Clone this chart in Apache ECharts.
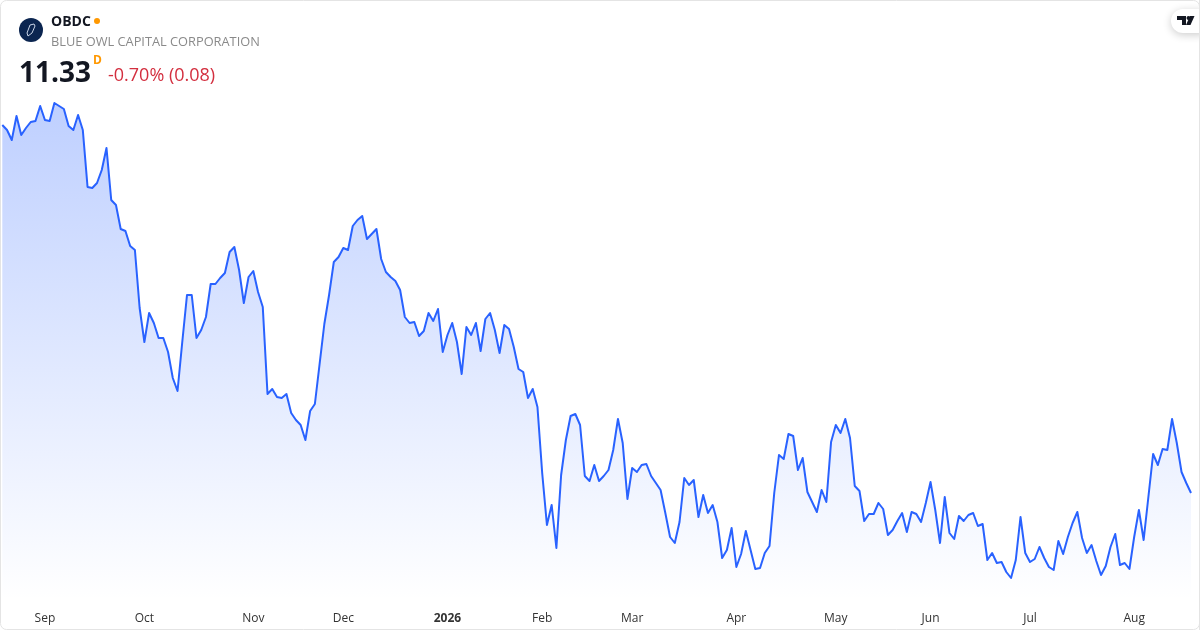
<!DOCTYPE html>
<html><head><meta charset="utf-8">
<style>html,body{margin:0;padding:0;background:#fff}#c{width:1200px;height:630px}</style>
<script src="https://cdn.jsdelivr.net/npm/echarts@6/dist/echarts.min.js"></script>
</head><body><div id="c"></div>
<script>
const prices = [15.01,14.96,14.86,15.10,14.91,14.98,15.04,15.05,15.20,15.06,15.05,15.23,15.20,15.17,15.00,14.96,15.11,14.96,14.39,14.38,14.43,14.56,14.78,14.26,14.21,13.97,13.95,13.80,13.76,
13.18,12.84,13.13,13.03,12.88,12.88,12.74,12.48,12.35,12.84,13.31,13.31,12.88,12.96,13.09,13.42,13.42,13.48,13.53,13.74,13.79,13.56,13.23,13.49,13.55,13.34,13.19,12.32,12.37,12.29,12.28,12.32,12.13,12.06,12.01,11.86,12.15,12.22,12.62,13.02,13.31,13.64,13.69,13.78,13.76,14.00,14.06,14.10,13.87,13.92,13.97,13.67,13.54,13.49,13.45,13.36,13.09,13.03,13.04,12.90,12.95,13.13,13.05,13.17,12.74,12.91,13.03,12.84,12.52,12.99,12.91,13.03,12.75,13.07,13.13,12.96,12.73,13.01,12.97,12.79,12.57,12.54,12.28,12.37,12.19,
11.53,11.01,11.21,10.78,11.51,11.86,12.10,12.12,12.01,11.50,11.45,11.61,11.45,11.50,11.56,11.76,12.07,11.83,11.27,11.58,11.54,11.61,11.62,11.50,11.43,11.36,11.13,10.89,10.83,11.04,11.48,11.41,11.46,11.09,11.31,11.13,11.21,11.04,10.68,10.76,10.98,10.59,10.72,10.95,10.76,10.57,10.58,10.73,10.80,11.33,11.71,11.67,11.92,11.90,11.56,11.68,11.34,11.24,11.14,11.36,11.24,11.84,12.01,11.93,12.07,11.88,11.40,11.35,
11.05,11.12,11.12,11.23,11.17,10.91,10.96,11.05,11.13,10.94,11.14,11.12,11.04,11.23,11.44,11.16,10.83,11.29,10.93,10.87,11.10,11.05,11.11,11.13,11.00,11.02,10.66,10.73,10.63,10.64,10.54,10.48,10.66,11.09,10.73,10.64,10.67,10.79,10.68,10.59,10.56,10.85,10.72,10.89,11.03,11.14,10.88,10.73,10.81,10.65,10.51,10.60,10.79,10.92,10.61,10.63,10.57,10.89,11.16,10.86,11.29,11.72,11.61,11.77,11.76,12.07,11.83,11.54,11.43,11.33];
const tickLabels = ['Sep','Oct','Nov','Dec','2026','Feb','Mar','Apr','May','Jun','Jul','Aug'];
const tickIndex = [9,30,53,72,94,114,133,155,176,196,217,239];
const categories = prices.map((_, i) => { const k = tickIndex.indexOf(i); return k >= 0 ? tickLabels[k] : ''; });

const chart = echarts.init(document.getElementById('c'), null, {renderer:'canvas'});
const FONT = '"Open Sans","Noto Sans",sans-serif';
chart.setOption({
  animation:false,
  backgroundColor:'#fff',
  grid:{left:2.3,width:1188.7,top:0,height:600,containLabel:false},
  xAxis:{type:'category',data:categories,boundaryGap:false,
    axisLine:{show:false},axisTick:{show:false},splitLine:{show:false},
    axisLabel:{interval:(i,v)=>v!=='' ,margin:13,color:'#333',fontSize:12,fontFamily:FONT,hideOverlap:false,
      formatter:v=>v==='2026'?'{b|2026}':v,
      rich:{b:{fontWeight:'bold',color:'#333',fontSize:12,fontFamily:FONT}}}},
  yAxis:{type:'value',min:10.26,max:16.26,show:false,splitLine:{show:false}},
  series:[{type:'line',data:prices,symbol:'none',smooth:false,
    lineStyle:{color:'#2962ff',width:2,join:'round'},
    areaStyle:{opacity:1,color:new echarts.graphic.LinearGradient(0,0,0,1,[
      {offset:0,color:'rgba(41,98,255,0.3)'},{offset:1,color:'rgba(41,98,255,0)'}])}}],
  graphic:[
    {type:'rect',silent:true,z:50,shape:{x:0.5,y:0.5,width:1199,height:629,r:6},style:{fill:'none',stroke:'#e4e4e4',lineWidth:1}},
    {type:'circle',z:60,shape:{cx:31,cy:30,r:12},style:{fill:'#0b2550'}},
    {type:'polygon',z:61,shape:{points:[[28,36],[27,33],[30,25],[34,24],[35,26],[32,33]]},style:{fill:'none',stroke:'#c9d4e6',lineWidth:1}},
    {type:'text',z:60,x:51,y:15,style:{text:'OBDC',fill:'#131722',font:'bold 14px '+FONT}},
    {type:'circle',z:60,shape:{cx:97,cy:21,r:3},style:{fill:'#ff9800'}},
    {type:'text',z:60,x:51,y:36,style:{text:'BLUE OWL CAPITAL CORPORATION',fill:'#8a8a8a',font:'12.8px '+FONT}},
    {type:'text',z:60,x:19,y:60,style:{text:'11.33',fill:'#131722',font:'bold 28px '+FONT}},
    {type:'text',z:60,x:93,y:55,style:{text:'D',fill:'#ff9800',font:'bold 12px '+FONT}},
    {type:'text',z:60,x:108,y:67,style:{text:'-0.70% (0.08)',fill:'#d32f3f',font:'18px '+FONT}},
    {type:'rect',z:60,shape:{x:1171,y:9,width:40,height:24,r:12},style:{fill:'#fff',shadowBlur:8,shadowColor:'rgba(0,0,0,0.2)',shadowOffsetY:2}},
    {type:'polygon',z:61,shape:{points:[[1177,16],[1186,16],[1186,25],[1182,25],[1182,20],[1177,20]]},style:{fill:'#131722'}},
    {type:'circle',z:61,shape:{cx:1188.5,cy:18,r:2},style:{fill:'#131722'}},
    {type:'polygon',z:61,shape:{points:[[1190,16],[1194.5,16],[1190.5,25],[1186,25]]},style:{fill:'#131722'}},
    {type:'rect',z:62,shape:{x:1199,y:0,width:1,height:630},style:{fill:'#e4e4e4'}}
  ]
});
</script></body></html>
